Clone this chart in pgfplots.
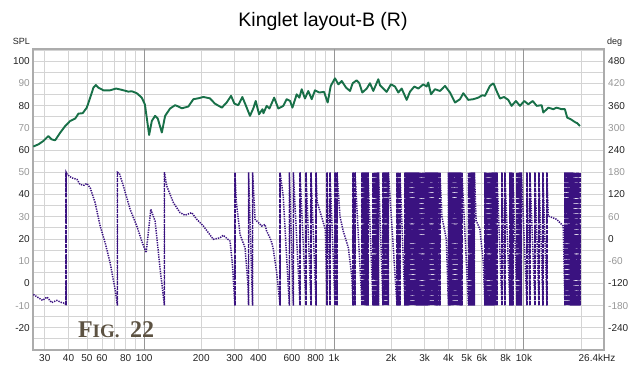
\documentclass[border=0pt]{standalone}
\usepackage{pgfplots}
\pgfplotsset{compat=1.18}
\usepackage{pgfplotstable}
\usepackage{fontspec}
\setmainfont{Liberation Sans}
\newfontfamily\figfont{Liberation Serif}

\definecolor{splgreen}{RGB}{24,112,72}
\definecolor{phasepurple}{RGB}{58,18,128}
\definecolor{gridlight}{RGB}{212,212,212}
\definecolor{griddark}{RGB}{150,150,150}
\definecolor{framegray}{RGB}{172,172,172}
\definecolor{lbldark}{RGB}{35,35,35}
\definecolor{lbllight}{RGB}{150,150,150}
\definecolor{figbrown}{RGB}{92,82,66}

% SPL magnitude (dB) against frequency (Hz)
\pgfplotstableread{
f spl
26.1 61.6
27.8 62.6
29.5 64.1
31.3 66.3
32.6 64.8
34.0 64.4
36.2 67.9
38.4 70.8
40.8 73.1
43.4 74.2
45.1 76.4
47.5 76.6
49.9 79.1
52.0 83.6
54.1 88.1
55.7 89.3
57.4 88.1
61.1 86.9
66.2 86.9
71.2 87.7
76.4 87.1
82.7 86.3
86.0 86.5
91.5 85.6
97.2 83.6
101.0 80.5
106.3 66.8
109.8 73.1
114.2 75.4
118.0 74.2
124.0 67.9
129.0 75.4
137.0 78.7
145.6 80.2
151.6 79.6
157.9 78.8
171.0 79.6
181.7 82.9
193.0 83.3
205.0 83.9
222.0 83.3
236.0 80.9
256.6 79.1
272.0 81.4
287.0 84.4
298.8 80.9
313.0 80.2
329.0 83.9
344.0 79.9
361.0 75.4
376.0 78.8
387.0 82.1
403.0 76.1
420.0 78.4
425.0 76.6
442.0 79.9
457.0 78.7
484.0 83.6
509.0 78.7
541.0 79.9
563.0 82.9
587.0 82.1
604.0 79.1
636.0 85.1
657.0 83.6
676.0 87.4
703.0 83.2
732.0 86.6
763.0 82.9
794.0 86.9
837.0 85.9
886.0 86.2
926.0 81.4
961.0 88.9
1012 92.3
1054 89.6
1098 91.1
1157 88.1
1214 86.6
1254 90.1
1316 91.4
1359 90.1
1409 85.9
1487 87.7
1546 90.1
1610 86.6
1711 91.9
1746 89.2
1893 86.2
1995 89.6
2094 88.6
2180 85.9
2271 87.7
2413 82.6
2512 86.3
2648 88.6
2779 87.7
2954 89.6
3076 88.6
3135 90.4
3241 85.1
3401 87.4
3615 86.6
3840 88.9
4080 85.9
4336 81.4
4606 82.9
4794 85.6
5095 82.6
5412 82.9
5750 83.6
6034 84.7
6233 84.4
6624 88.9
6894 90.0
6950 89.6
7180 86.6
7480 83.2
7855 83.9
8267 82.6
8610 79.9
9070 82.1
9527 79.9
10040 82.1
10540 80.6
11120 82.1
11670 79.9
12400 80.2
12650 76.9
13440 79.1
14270 78.4
14860 79.1
15780 78.4
16430 78.4
16900 74.6
17620 73.9
18200 73.1
18720 72.4
19100 72.1
19720 70.8
}\spldata

% wrapped phase (deg) against frequency (Hz)
\pgfplotstableread{
f deg
26.1 -150
27.8 -159
29.2 -166
30.8 -157
32.6 -172
34.7 -166
36.8 -172
38.4 -174
38.86 -180
38.86 180
39.4 174
41.6 165
44.3 161
46.0 147
48.3 145
49.9 150
52.0 138
55.2 98
58.7 35
62.3 -10
66.2 -64
70.4 -137
71.8 -168
72.36 -180
72.36 180
74.1 177
77.8 143
84.4 80
91.5 35
97.2 -6
102.5 -37
108.4 80
114.3 48
121.4 -82
124.5 -128
127.9 -180
127.9 180
131.6 143
142.6 98
154.6 71
164.2 64
178.0 71
189.4 53
205.0 35
231.5 -1
251.0 3
261.0 10
283.5 -6
292.0 -70
300.6 -180
300.6 180
306.0 100
320.0 12
340.0 -24
352.0 -120
354.8 -180
354.8 180
372.5 -180
372.5 180
384.0 53
400.0 44
416.0 35
433.0 39
442.0 21
460.0 3
470.0 -10
479.0 -28
499.0 -91
519.8 -180
519.8 180
540.0 116
581.8 -180
581.8 180
610.7 -180
610.7 180
662.3 -180
662.3 180
712.2 -180
712.2 180
756.7 -180
756.7 180
804.2 -180
804.2 180
815.0 100
860.0 60
900.0 26
918.8 -180
918.8 180
952.6 -180
952.6 180
1012 -180
1012 180
1037 -180
1037 180
1075 60
1120 20
1190 -24
1240 -100
1259 -180
1259 180
1290 -180
1290 180
1404 -180
1404 180
1430 -180
1430 180
1456 -180
1456 180
1483 -180
1483 180
1510 -180
1510 180
1605 -180
1605 180
1635 -180
1635 180
1665 -180
1665 180
1695 -180
1695 180
1715 -180
1715 180
1811 -180
1811 180
1845 -180
1845 180
1878 -180
1878 180
1912 -180
1912 180
1935 -180
1935 180
2146 -180
2146 180
2185 -180
2185 180
2225 -180
2225 180
2364 -180
2364 180
2407 -180
2407 180
2451 -180
2451 180
2496 -180
2496 180
2542 -180
2542 180
2589 -180
2589 180
2636 -180
2636 180
2684 -180
2684 180
2734 -180
2734 180
2784 -180
2784 180
2835 -180
2835 180
2887 -180
2887 180
2940 -180
2940 180
2994 -180
2994 180
3049 -180
3049 180
3105 -180
3105 180
3162 -180
3162 180
3220 -180
3220 180
3279 -180
3279 180
3339 -180
3339 180
3400 -180
3400 180
3463 -180
3463 180
3526 -180
3526 180
3613 -180
3613 180
3700 60
3900 0
4005 -180
4005 180
4079 -180
4079 180
4153 -180
4153 180
4230 -180
4230 180
4307 -180
4307 180
4386 -180
4386 180
4467 -180
4467 180
4549 -180
4549 180
4632 -180
4632 180
4717 -180
4717 180
5105 -180
5105 180
5198 -180
5198 180
5294 -180
5294 180
5391 -180
5391 180
5490 -180
5490 180
5600 50
5866 26
6100 -60
6233 -180
6233 180
6347 -180
6347 180
6464 -180
6464 180
6582 -180
6582 180
6703 -180
6703 180
6826 -180
6826 180
6951 -180
6951 180
7079 -180
7079 180
7208 -180
7208 180
7660 -180
7660 180
7943 -180
7943 180
8437 -180
8437 180
8592 -180
8592 180
8750 -180
8750 180
9188 -180
9188 180
9357 -180
9357 180
9528 -180
9528 180
9703 -180
9703 180
10370 -180
10370 180
10755 -180
10755 180
11429 -180
11429 180
11994 -180
11994 180
12589 -180
12589 180
13214 -180
13214 180
13428 62
14864 53
16100 35
16436 -180
16436 180
16738 -180
16738 180
17045 -180
17045 180
17357 -180
17357 180
17676 -180
17676 180
18000 -180
18000 180
18330 -180
18330 180
18666 -180
18666 180
19009 -180
19009 180
19358 -180
19358 180
19712 -180
19712 180
}\phasedata

% wrap points of the phase: centre 0 deg, half-span 180 deg
\pgfplotstableread{
f c h
38.86 0 180
72.36 0 180
127.9 0 180
300.6 0 180
354.8 0 180
372.5 0 180
519.8 0 180
581.8 0 180
610.7 0 180
662.3 0 180
712.2 0 180
756.7 0 180
804.2 0 180
918.8 0 180
952.6 0 180
1012 0 180
1037 0 180
1259 0 180
1290 0 180
1404 0 180
1430 0 180
1456 0 180
1483 0 180
1510 0 180
1605 0 180
1635 0 180
1665 0 180
1695 0 180
1715 0 180
1811 0 180
1845 0 180
1878 0 180
1912 0 180
1935 0 180
2146 0 180
2185 0 180
2225 0 180
2364 0 180
2407 0 180
2451 0 180
2496 0 180
2542 0 180
2589 0 180
2636 0 180
2684 0 180
2734 0 180
2784 0 180
2835 0 180
2887 0 180
2940 0 180
2994 0 180
3049 0 180
3105 0 180
3162 0 180
3220 0 180
3279 0 180
3339 0 180
3400 0 180
3463 0 180
3526 0 180
3613 0 180
4005 0 180
4079 0 180
4153 0 180
4230 0 180
4307 0 180
4386 0 180
4467 0 180
4549 0 180
4632 0 180
4717 0 180
5105 0 180
5198 0 180
5294 0 180
5391 0 180
5490 0 180
6233 0 180
6347 0 180
6464 0 180
6582 0 180
6703 0 180
6826 0 180
6951 0 180
7079 0 180
7208 0 180
7660 0 180
7943 0 180
8437 0 180
8592 0 180
8750 0 180
9188 0 180
9357 0 180
9528 0 180
9703 0 180
10370 0 180
10755 0 180
11429 0 180
11994 0 180
12589 0 180
13214 0 180
16436 0 180
16738 0 180
17045 0 180
17357 0 180
17676 0 180
18000 0 180
18330 0 180
18666 0 180
19009 0 180
19358 0 180
19712 0 180
}\wrapdata

\begin{document}
\begin{tikzpicture}
% magnitude axis: frame, grid, left scale
\begin{axis}[
  scale only axis, width=571bp, height=301bp,
  xmode=log, xmin=26, xmax=26400,
  tick label style={font=\fontsize{10bp}{12bp}\selectfont, inner sep=1bp},
  major tick length=0pt, minor tick length=0pt,
  ymin=-30, ymax=105.5,
  axis line style={framegray, line width=1.6bp},
  xtick={30,40,50,60,80,100,200,300,400,600,800,1000,2000,3000,4000,5000,6000,8000,10000,26400},
  xticklabels={30,40,50,60,80,100,200,300,400,600,800,1k,2k,3k,4k,5k,6k,8k,10k,26.4kHz\hspace*{14bp}},
  xticklabel style={yshift=-3bp, text=lbldark},
  minor xtick={30,40,50,60,70,80,90,200,300,400,500,600,700,800,900,2000,3000,4000,5000,6000,7000,8000,9000,20000},
  xminorgrids,
  extra x ticks={100,1000,10000}, extra x tick labels={},
  extra x tick style={xmajorgrids=true, major grid style={griddark, line width=1bp}},
  ytick={-20,-10,...,100},
  yticklabels={\textcolor{lbldark}{-20},\textcolor{lbllight}{-10},\textcolor{lbldark}{0},\textcolor{lbllight}{10},\textcolor{lbldark}{20},\textcolor{lbllight}{30},\textcolor{lbldark}{40},\textcolor{lbllight}{50},\textcolor{lbldark}{60},\textcolor{lbllight}{70},\textcolor{lbldark}{80},\textcolor{lbllight}{90},\textcolor{lbldark}{100}},
  yticklabel style={xshift=-2bp},
  minor ytick={-25,-15,...,105},
  ymajorgrids, yminorgrids,
  major grid style={gridlight, line width=0.8bp},
  minor grid style={gridlight, line width=0.8bp},
  xtick pos=bottom, ytick pos=left,
]
\addplot[splgreen, line width=1.9bp, line join=round] table[x=f, y=spl]{\spldata};
\coordinate (bl) at (rel axis cs:0,0);
\coordinate (tl) at (rel axis cs:0,1);
\coordinate (tr) at (rel axis cs:1,1);
\coordinate (figpos) at (axis cs:44.8,-24.2);
\end{axis}
% phase axis: right scale
\begin{axis}[
  scale only axis, width=571bp, height=301bp,
  xmode=log, xmin=26, xmax=26400,
  tick label style={font=\fontsize{10bp}{12bp}\selectfont, inner sep=1bp},
  major tick length=0pt, minor tick length=0pt,
  ymin=-300, ymax=513,
  hide x axis,
  axis y line*=right,
  y axis line style={draw=none},
  ytick={-240,-180,...,480},
  yticklabels={\textcolor{lbldark}{-240},\textcolor{lbllight}{-180},\textcolor{lbldark}{-120},\textcolor{lbllight}{-60},\textcolor{lbldark}{0},\textcolor{lbllight}{60},\textcolor{lbldark}{120},\textcolor{lbllight}{180},\textcolor{lbldark}{240},\textcolor{lbllight}{300},\textcolor{lbldark}{360},\textcolor{lbllight}{420},\textcolor{lbldark}{480}},
  yticklabel style={xshift=3bp},
]
% phase trace, dotted
\addplot[phasepurple, line width=1.5bp, dash pattern=on 1.3bp off 1.1bp] table[x=f, y=deg]{\phasedata};
% wrap connectors, dashed
\addplot[draw=none, mark=none,
  error bars/.cd, y dir=both, y explicit, error mark=none,
  error bar style={draw=phasepurple, line width=1.6bp, dash pattern=on 4bp off 1.2bp}]
  table[x=f, y=c, y error=h]{\wrapdata};
\end{axis}

\node[anchor=base, font=\fontsize{19.5bp}{23bp}\selectfont, text=black] at ([shift={(290bp,22.3bp)}]tl) {Kinglet layout-B (R)};
\node[anchor=base east, font=\fontsize{9bp}{11bp}\selectfont, text=lbldark, inner sep=0pt] at ([shift={(-3bp,4bp)}]tl) {SPL};
\node[anchor=base west, font=\fontsize{9bp}{11bp}\selectfont, text=lbldark, inner sep=0pt] at ([shift={(3bp,4bp)}]tr) {deg};
\node[anchor=base west, inner sep=0pt, text=figbrown] at (figpos)
  {\figfont\bfseries\fontsize{24bp}{24bp}\selectfont F\fontsize{19bp}{19bp}\selectfont IG.\hspace{0.55em}\fontsize{24bp}{24bp}\selectfont 22};

\pgfresetboundingbox
\path[use as bounding box] ([shift={(-33bp,-19bp)}]bl) rectangle ([shift={(31bp,49bp)}]tr);
\end{tikzpicture}
\end{document}
